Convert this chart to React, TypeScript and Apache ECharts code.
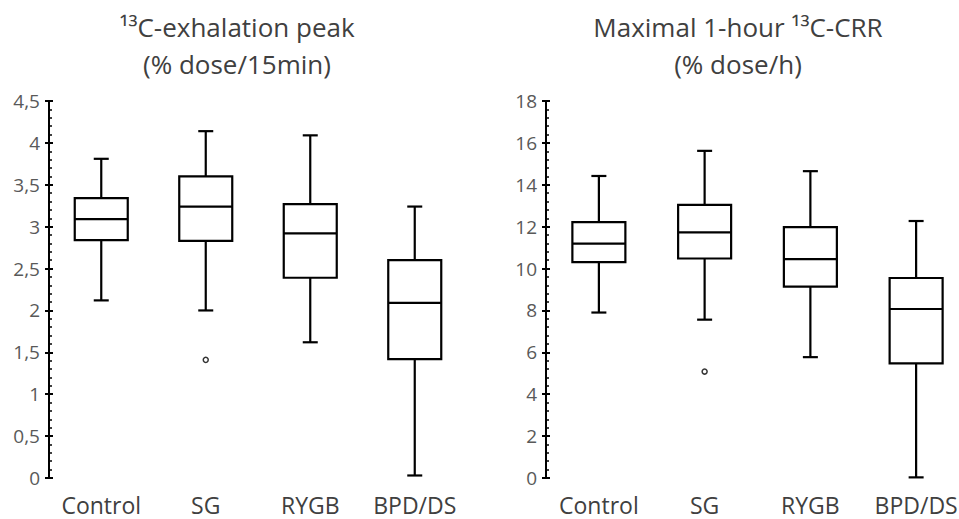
import React, { useEffect, useRef } from "react";
import * as echarts from "echarts";

const categories = ["Control", "SG", "RYGB", "BPD/DS"];

// [low, q1, median, q3, high]
const peakBoxes = [
  [2.12, 2.84, 3.09, 3.34, 3.81],
  [2.0, 2.83, 3.24, 3.6, 4.14],
  [1.62, 2.39, 2.92, 3.27, 4.09],
  [0.03, 1.42, 2.09, 2.6, 3.24],
];
const peakOutliers = [[1, 1.41]];

const crrBoxes = [
  [7.9, 10.31, 11.19, 12.22, 14.42],
  [7.56, 10.48, 11.73, 13.04, 15.62],
  [5.77, 9.14, 10.45, 11.98, 14.65],
  [0.03, 5.47, 8.07, 9.55, 12.27],
];
const crrOutliers = [[1, 5.08]];

const peakTicks = { min: 0, max: 4.5, interval: 0.5 };
const crrTicks = { min: 0, max: 18, interval: 2 };

const titleLeft = "¹³C-exhalation peak\n(% dose/15min)";
const titleRight = "Maximal 1-hour ¹³C-CRR\n(% dose/h)";

const FONT = "'Open Sans', 'Noto Sans', sans-serif";

function renderBox(params: any, api: any) {
  const x = api.value(0);
  const low = api.coord([x, api.value(1)]);
  const q1 = api.coord([x, api.value(2)]);
  const med = api.coord([x, api.value(3)]);
  const q3 = api.coord([x, api.value(4)]);
  const high = api.coord([x, api.value(5)]);
  const cx = low[0];
  const half = 26.5;
  const cap = 7.5;
  const ls = { stroke: "#000", lineWidth: 2.2, fill: "none" };
  return {
    type: "group",
    children: [
      { type: "line", shape: { x1: cx, y1: q3[1], x2: cx, y2: high[1] }, style: ls },
      { type: "line", shape: { x1: cx, y1: q1[1], x2: cx, y2: low[1] }, style: ls },
      { type: "line", shape: { x1: cx - cap, y1: high[1], x2: cx + cap, y2: high[1] }, style: ls },
      { type: "line", shape: { x1: cx - cap, y1: low[1], x2: cx + cap, y2: low[1] }, style: ls },
      {
        type: "rect",
        shape: { x: cx - half, y: q3[1], width: half * 2, height: q1[1] - q3[1] },
        style: { stroke: "#000", lineWidth: 2.2, fill: "#fff" },
      },
      { type: "line", shape: { x1: cx - half, y1: med[1], x2: cx + half, y2: med[1] }, style: ls },
    ],
  };
}

export default function App() {
  const ref = useRef<HTMLDivElement>(null);
  useEffect(() => {
    if (!ref.current) return;
    const chart = echarts.init(ref.current, null, { renderer: "svg" });
    const fmt = (v: number) => String(v).replace(".", ",");
    const yMain = (t: any) => ({
      type: "value",
      min: t.min,
      max: t.max,
      interval: t.interval,
      axisLine: { show: true, lineStyle: { color: "#000", width: 2 } },
      axisTick: { show: true, length: 4, lineStyle: { color: "#000", width: 2 } },
      axisLabel: { color: "#595959", fontSize: 19, fontFamily: FONT, margin: 9, formatter: fmt },
      splitLine: { show: false },
    });
    const yInner = (t: any, gi: number) => ({
      type: "value",
      gridIndex: gi,
      position: "left",
      min: t.min,
      max: t.max,
      interval: t.interval,
      axisLine: { show: false },
      axisTick: { show: true, inside: true, length: 4, lineStyle: { color: "#000", width: 2 } },
      minorTick: { show: true, splitNumber: 5, length: 3, lineStyle: { color: "#000", width: 1.5 } },
      axisLabel: { show: false },
      splitLine: { show: false },
    });
    const xAx = (gi: number) => ({
      type: "category",
      gridIndex: gi,
      data: categories,
      axisLine: { show: false },
      axisTick: { show: false },
      axisLabel: { color: "#404040", fontSize: 23, fontFamily: FONT, margin: 15, interval: 0 },
    });
    const toData = (boxes: number[][]) => boxes.map((b, i) => [i, ...b]);
    const titleStyle = {
      fill: "#404040",
      fontSize: 26,
      fontFamily: FONT,
      lineHeight: 37,
      align: "center",
      verticalAlign: "top",
    };
    chart.setOption({
      animation: false,
      backgroundColor: "#fff",
      grid: [
        { left: 49, top: 101, width: 418, height: 377, outerBoundsMode: "none" },
        { left: 546, top: 101, width: 423, height: 377, outerBoundsMode: "none" },
      ],
      xAxis: [xAx(0), xAx(1)],
      yAxis: [
        { ...yMain(peakTicks), gridIndex: 0 },
        yInner(peakTicks, 0),
        { ...yMain(crrTicks), gridIndex: 1 },
        yInner(crrTicks, 1),
      ],
      graphic: [
        { type: "text", x: 237, y: 8, style: { ...titleStyle, text: titleLeft } },
        { type: "text", x: 738, y: 8, style: { ...titleStyle, text: titleRight } },
      ],
      series: [
        {
          type: "custom",
          xAxisIndex: 0,
          yAxisIndex: 0,
          renderItem: renderBox,
          encode: { x: 0, y: [1, 2, 3, 4, 5] },
          data: toData(peakBoxes),
          z: 3,
        },
        {
          type: "scatter",
          xAxisIndex: 0,
          yAxisIndex: 0,
          symbol: "circle",
          symbolSize: 5,
          itemStyle: { color: "#fff", borderColor: "#000", borderWidth: 1.5 },
          data: peakOutliers,
          z: 4,
        },
        {
          type: "custom",
          xAxisIndex: 1,
          yAxisIndex: 2,
          renderItem: renderBox,
          encode: { x: 0, y: [1, 2, 3, 4, 5] },
          data: toData(crrBoxes),
          z: 3,
        },
        {
          type: "scatter",
          xAxisIndex: 1,
          yAxisIndex: 2,
          symbol: "circle",
          symbolSize: 5,
          itemStyle: { color: "#fff", borderColor: "#000", borderWidth: 1.5 },
          data: crrOutliers,
          z: 4,
        },
      ],
    });
    return () => chart.dispose();
  }, []);
  return <div ref={ref} style={{ width: 959, height: 519, position: "absolute", left: 0, top: 0 }} />;
}
